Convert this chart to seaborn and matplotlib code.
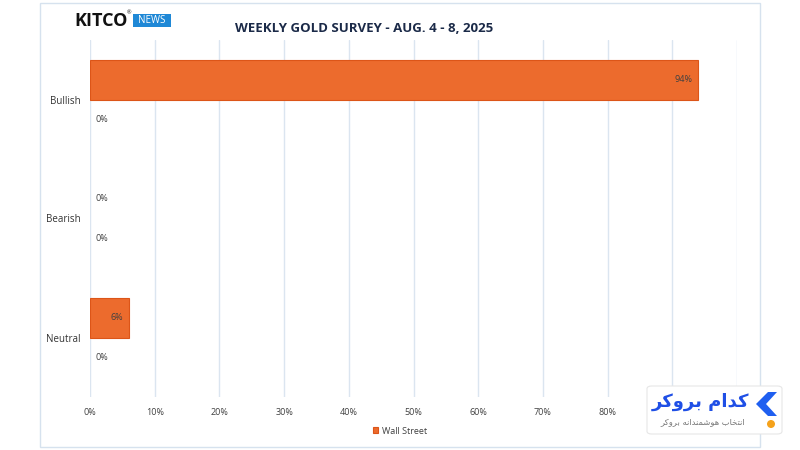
import numpy as np
import matplotlib.pyplot as plt
import pandas as pd
import seaborn as sns
from matplotlib.patches import Rectangle, FancyBboxPatch, Polygon, Ellipse

# Weekly gold survey - Kitco
categories = ["Bullish", "Bearish", "Neutral"]
series = ["Wall Street", "Main Street"]
wall_street = [94, 0, 6]
main_street = [0, 0, 0]
x_ticks = [0, 10, 20, 30, 40, 50, 60, 70, 80, 90, 100]
# 90% and 100% sit under the watermark in the original
x_tick_labels = ["0%", "10%", "20%", "30%", "40%", "50%", "60%", "70%", "80%", "", ""]
title = "WEEKLY GOLD SURVEY - AUG. 4 - 8, 2025"

df = pd.DataFrame({
    "sentiment": categories * 2,
    "group": [series[0]] * len(categories) + [series[1]] * len(categories),
    "pct": wall_street + main_street,
})

sns.set_theme(style="white")
plt.rcParams['font.family'] = ['Open Sans', 'DejaVu Sans']

W, H = 800, 450
fig = plt.figure(figsize=(8, 4.5), dpi=100)

def fx(px):
    return px / W

def fy(py):
    return 1 - py / H

ax = fig.add_axes([fx(90), fy(397), fx(737) - fx(90), fy(40) - fy(397)])
sns.barplot(data=df, y="sentiment", x="pct", hue="group", hue_order=series,
            order=categories, orient="h", width=0.66, saturation=1,
            palette=["#EC6B2D", "#A5A5A5"], edgecolor="#DC5518",
            linewidth=0.8, ax=ax)

handles, labels = ax.get_legend_handles_labels()
ax.get_legend().remove()

for cont in ax.containers:
    for bar in cont:
        w = bar.get_width()
        yc = bar.get_y() + bar.get_height() / 2
        if w > 0:
            ax.annotate(f"{w:.0f}%", (w, yc), xytext=(-4, 0), textcoords="offset points",
                        ha="right", va="center", fontsize=6.5, color="#404040")
        else:
            # zero-width bars should not show an edge
            bar.set_linewidth(0)
            ax.annotate(f"{w:.0f}%", (w, yc), xytext=(4, 0), textcoords="offset points",
                        ha="left", va="center", fontsize=6.5, color="#404040")

ax.set_xlim(0, 100)
ax.set_xticks(x_ticks)
ax.set_xticklabels(x_tick_labels)
ax.set_xlabel("")
ax.set_ylabel("")
ax.xaxis.grid(True, color="#dbe5f0", linewidth=1)
ax.set_axisbelow(True)
for s in ax.spines.values():
    s.set_visible(False)
ax.tick_params(axis="x", length=0, pad=8, labelsize=6.5, labelcolor="#404040")
ax.tick_params(axis="y", length=0, pad=7, labelsize=7, labelcolor="#333333")

fig.legend([handles[0]], [labels[0]], loc="center", bbox_to_anchor=(fx(400), fy(431)),
           frameon=False, handlelength=0.6, handleheight=0.6, handletextpad=0.4,
           fontsize=6.5, labelcolor="#404040")

# outer frame
fig.add_artist(Rectangle((fx(40), fy(447)), fx(760) - fx(40), fy(3) - fy(447),
                         transform=fig.transFigure, fill=False,
                         edgecolor="#d6e2ee", linewidth=1))

fig.text(fx(364), fy(28), title, ha="center", va="center", fontsize=9.5,
         fontweight="bold", color="#1b2a48")

# KITCO NEWS logo
fig.text(fx(74), fy(21), "KITCO", ha="left", va="center", fontsize=13,
         fontweight="bold", color="#111111")
fig.text(fx(127), fy(13), "\u00ae", ha="left", va="center", fontsize=4, color="#111111")
fig.add_artist(Rectangle((fx(133), fy(27)), fx(171) - fx(133), fy(14) - fy(27),
                         transform=fig.transFigure, facecolor="#1f88d6", edgecolor="none"))
fig.text(fx(152), fy(20.5), "NEWS", ha="center", va="center", fontsize=7,
         color="white")

# watermark
fig.add_artist(FancyBboxPatch((fx(647), fy(434)), fx(782) - fx(647), fy(386) - fy(434),
                              boxstyle="round,pad=0,rounding_size=0.006",
                              transform=fig.transFigure, facecolor="white",
                              edgecolor="#e6e6e6", linewidth=0.8, zorder=5))
kadam = "\uFEAE\uFB90\uFEED\uFEAE\uFE91 \uFEE1\uFE8D\uFEAA\uFB90"
sub = ("\uFEAE\uFB90\uFEED\uFEAE\uFE91 "
       "\uFEEA\uFEE7\uFE8D\uFEAA\uFEE8\uFEE4\uFEB7\uFEEE\uFEEB "
       "\uFE8F\uFE8E\uFEA8\uFE98\uFEE7\uFE8D")
fig.text(fx(749), fy(402), kadam, ha="right", va="center", fontsize=13,
         fontweight="bold", color="#1f4fe6", family=['DejaVu Sans'], zorder=6)
fig.text(fx(745), fy(422), sub, ha="right", va="center", fontsize=6,
         color="#777777", family=['DejaVu Sans'], zorder=6)
fig.add_artist(Polygon([(fx(768), fy(392)), (fx(777), fy(392)), (fx(766), fy(404)),
                        (fx(777), fy(416)), (fx(768), fy(416)), (fx(756), fy(404))],
                       closed=True, transform=fig.transFigure, facecolor="#1f5ff0",
                       edgecolor="none", zorder=6))
fig.add_artist(Ellipse((fx(771), fy(424)), fx(8), 8 / H, transform=fig.transFigure,
                       facecolor="#f5a21b", edgecolor="none", zorder=6))

fig.savefig("out.png", dpi=100)
